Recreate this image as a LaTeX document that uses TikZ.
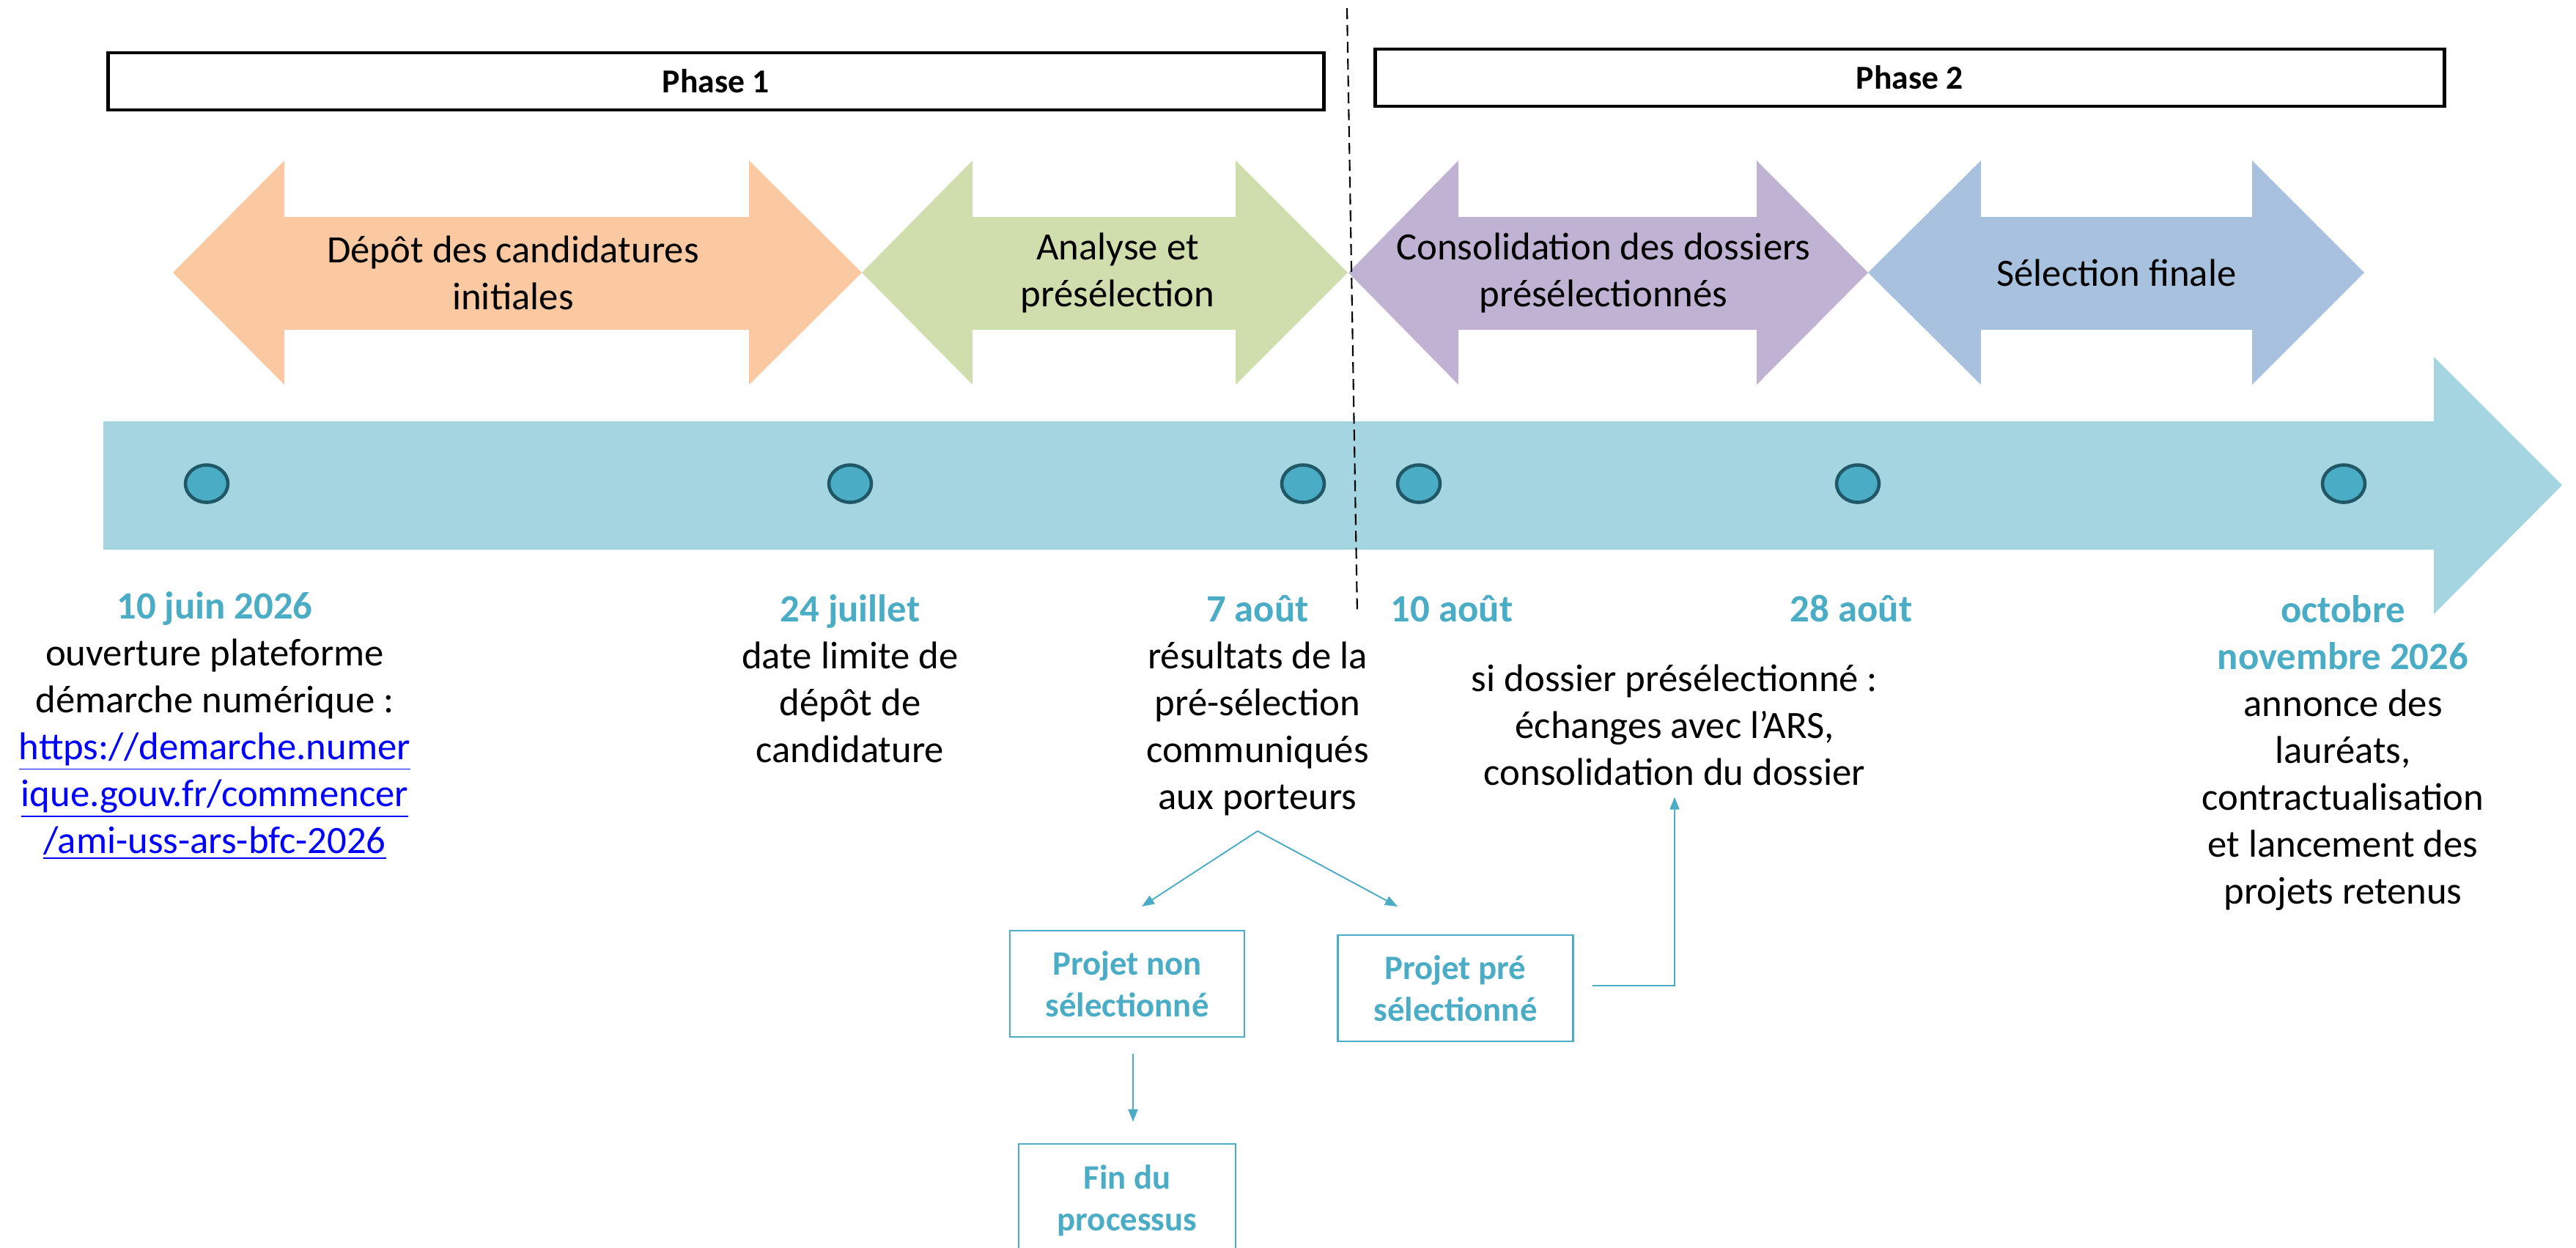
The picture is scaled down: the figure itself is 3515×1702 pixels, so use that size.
\documentclass[tikz,border=0pt]{standalone}
\usepackage{fontspec}
\setmainfont{Carlito}
\usetikzlibrary{arrows.meta}

\definecolor{peach}{HTML}{FAC9A2}
\definecolor{sage}{HTML}{D0DEAE}
\definecolor{lilac}{HTML}{BFB2D3}
\definecolor{steel}{HTML}{A8C1DF}
\definecolor{lineBlue}{HTML}{A6D5E2}
\definecolor{dateBlue}{HTML}{4BACC6}
\definecolor{dotLine}{HTML}{205867}
\definecolor{linkBlue}{HTML}{0000FF}

\newcommand{\headTop}{219}
\newcommand{\bodyTop}{296}
\newcommand{\midY   }{372}
\newcommand{\bodyBot}{450}
\newcommand{\headBot}{525}
\newcommand{\dotY   }{660}
\newcommand{\dateY  }{848}
\newcommand{\lineSkip}{64.2}
\newcommand{\dotRx  }{29}
\newcommand{\dotRy  }{25.5}
\newcommand{\txtSize}{\fontsize{15}{18.2}\selectfont}
\newcommand{\dateTxt}[1]{\textcolor{dateBlue}{\textbf{#1}}}
\newcommand{\linkTxt}[1]{\textcolor{linkBlue}{\underline{#1}}}

\tikzset{
  phase/.style={draw, line width=1.2pt, minimum height=0.78cm, inner sep=0pt,
                font=\fontsize{13}{16}\selectfont\bfseries},
  stage/.style={align=center, inner sep=0pt, font=\txtSize},
  date/.style={align=center, anchor=base, inner sep=0pt, font=\txtSize},
  smallbox/.style={draw=dateBlue, line width=0.7pt, align=center, inner sep=0pt,
                   minimum height=1.45cm, text=dateBlue,
                   font=\fontsize{13.3}{16.2}\selectfont\bfseries},
  link/.style={draw=dateBlue, line width=0.55pt, -{Triangle[length=0.17cm,width=0.13cm]}},
  dotmark/.style={draw=dotLine, fill=dateBlue, line width=1.3pt},
}

\begin{document}
\begin{tikzpicture}[x=0.01cm, y=-0.01cm]
  \useasboundingbox (0,0) rectangle (3515,1702);

  % Phases:
  \node[phase, minimum width=16.58cm] (phaseA) at (977,111) {Phase 1};
  \node[phase, minimum width=14.58cm] (phaseB) at (2606,106) {Phase 2};

  % Double arrows:
  \fill[peach] (236 ,\midY) -- (388 ,\headTop) -- (388 ,\bodyTop) -- (1022,\bodyTop) -- (1022,\headTop) -- (1176,\midY)
               -- (1022,\headBot) -- (1022,\bodyBot) -- (388 ,\bodyBot) -- (388 ,\headBot) -- cycle;
  \fill[sage]  (1176,\midY) -- (1327,\headTop) -- (1327,\bodyTop) -- (1686,\bodyTop) -- (1686,\headTop) -- (1839,\midY)
               -- (1686,\headBot) -- (1686,\bodyBot) -- (1327,\bodyBot) -- (1327,\headBot) -- cycle;
  \fill[lilac] (1840,\midY) -- (1990,\headTop) -- (1990,\bodyTop) -- (2397,\bodyTop) -- (2397,\headTop) -- (2549,\midY)
               -- (2397,\headBot) -- (2397,\bodyBot) -- (1990,\bodyBot) -- (1990,\headBot) -- cycle;
  \fill[steel] (2549,\midY) -- (2703,\headTop) -- (2703,\bodyTop) -- (3073,\bodyTop) -- (3073,\headTop) -- (3226,\midY)
               -- (3073,\headBot) -- (3073,\bodyBot) -- (2703,\bodyBot) -- (2703,\headBot) -- cycle;

  \node[stage] (depot)  at (700 ,\midY) {Dépôt des candidatures\\initiales};
  \node[stage] (analys) at (1525,\midY) {Analyse et\\présélection};
  \node[stage] (consol) at (2188,\midY) {Consolidation des dossiers\\présélectionnés};
  \node[stage] (select) at (2888,\midY) {Sélection finale};

  % Timeline:
  \fill[lineBlue] (141,575) -- (3321,575) -- (3321,487) -- (3496,662) -- (3321,838) -- (3321,750) -- (141,750) -- cycle;

  % Dots:
  \filldraw[dotmark] (282 ,\dotY) ellipse [x radius=\dotRx, y radius=\dotRy];
  \filldraw[dotmark] (1160,\dotY) ellipse [x radius=\dotRx, y radius=\dotRy];
  \filldraw[dotmark] (1778,\dotY) ellipse [x radius=\dotRx, y radius=\dotRy];
  \filldraw[dotmark] (1936,\dotY) ellipse [x radius=\dotRx, y radius=\dotRy];
  \filldraw[dotmark] (2535,\dotY) ellipse [x radius=\dotRx, y radius=\dotRy];
  \filldraw[dotmark] (3198,\dotY) ellipse [x radius=\dotRx, y radius=\dotRy];

  % Separator:
  \draw[line width=0.6pt, dash pattern=on 0.15cm off 0.08cm] (1838,11) -- (1852,838);

  % Dates (base = last line):
  \node[date] (juin)    at (293 ,843+5*\lineSkip)    {\dateTxt{10 juin 2026}\\ouverture plateforme\\démarche numérique :\\
                                          \linkTxt{https://demarche.numer}\\\linkTxt{ique.gouv.fr/commencer}\\\linkTxt{/ami-uss-ars-bfc-2026}};
  \node[date] (juillet) at (1160,\dateY+3*\lineSkip) {\dateTxt{24 juillet}\\date limite de\\dépôt de\\candidature};
  \node[date] (aoutA)   at (1716,\dateY+4*\lineSkip) {\dateTxt{7 août}\\résultats de la\\pré-sélection\\communiqués\\aux porteurs};
  \node[date] (aoutB)   at (1981,\dateY)             {\dateTxt{10 août}};
  \node[date] (siDos)   at (2285,943+2*\lineSkip)    {si dossier présélectionné :\\échanges avec l’ARS,\\consolidation du dossier};
  \node[date] (aoutC)   at (2526,\dateY)             {\dateTxt{28 août}};
  \node[date] (autom)   at (3197,\dateY+6*\lineSkip) {\dateTxt{octobre}\\\dateTxt{novembre 2026}\\annonce des\\lauréats,\\contractualisation\\et lancement des\\projets retenus};

  % Outcomes:
  \node[smallbox, minimum width=3.20cm] (nonSel)  at (1538,1342.5) {Projet non\\sélectionné};
  \node[smallbox, minimum width=3.21cm] (preSel)  at (1986,1348.5) {Projet pré\\sélectionné};
  \node[smallbox, minimum width=2.96cm, minimum height=1.54cm] (finProc) at (1538,1638) {Fin du\\processus};

  % Connectors:
  \coordinate (fork)  at (1716,1134);
  \coordinate (toNon) at (1558,1237);
  \coordinate (toPre) at (1907,1237);
  \draw[link] (fork) -- (toNon);
  \draw[link] (fork) -- (toPre);
  \draw[link] ([xshift=0.08cm, yshift=-0.22cm]nonSel.south) -- ([xshift=0.08cm, yshift=0.29cm]finProc.north);
  \draw[link] ([xshift=0.25cm, yshift=0.035cm]preSel.east) -| ([yshift=-0.15cm]siDos.south);

\end{tikzpicture}
\end{document}
